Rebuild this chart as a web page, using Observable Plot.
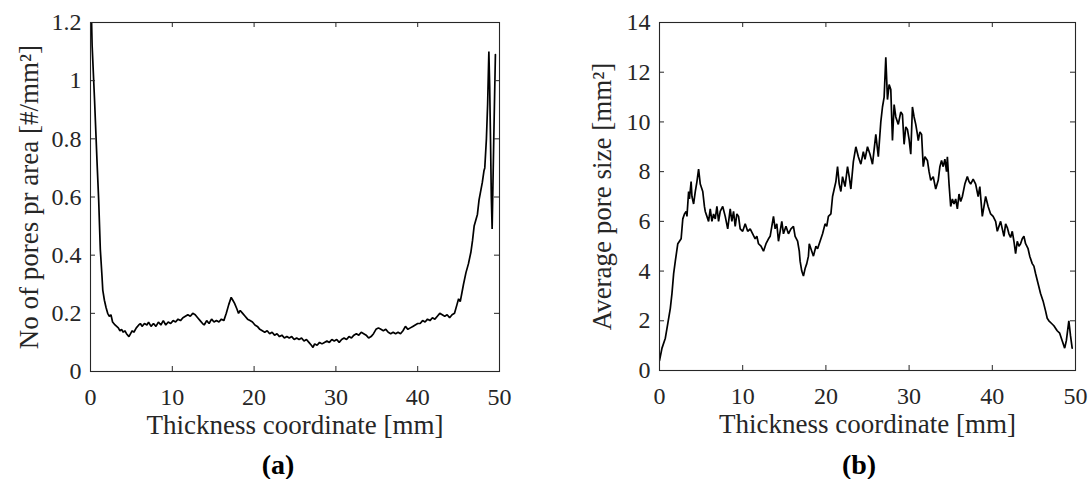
<!DOCTYPE html>
<html>
<head>
<meta charset="utf-8">
<script src="https://cdn.jsdelivr.net/npm/d3@7"></script>
<script src="https://cdn.jsdelivr.net/npm/@observablehq/plot@0.6"></script>
<style>
  html, body { margin: 0; padding: 0; background: #fff; }
  #wrap { position: relative; width: 1091px; height: 479px; overflow: hidden; background: #fff; }
  .panel { position: absolute; top: 0; }
  .cap { position: absolute; width: 100px; text-align: center; font-family: "Liberation Serif", serif; font-weight: bold; font-size: 28px; line-height: 28px; color: #000; }
</style>
</head>
<body>
<div id="wrap">
  <div id="pa" class="panel" style="left:0px"></div>
  <div id="pb" class="panel" style="left:545px"></div>
  <div class="cap" style="left:228px; top:451px">(a)</div>
  <div class="cap" style="left:809px; top:451px">(b)</div>
</div>
<script>
// ---- Data ----
const xTicks = [0, 10, 20, 30, 40, 50];
const yTicksA = [0, 0.2, 0.4, 0.6, 0.8, 1, 1.2];
const yTicksB = [0, 2, 4, 6, 8, 10, 12, 14];
const xLabel = "Thickness coordinate [mm]";
const yLabelA = "No of pores pr area [#/mm²]";
const yLabelB = "Average pore size [mm²]";

// (a) number of pores per area vs thickness coordinate
const thicknessA = [0.05,0.2,0.5,0.8,1.0,1.2,1.4,1.5,1.7,1.9,2.1,2.3,2.5,2.7,3.0,3.2,3.4,3.6,3.8,4.0,4.2,4.4,4.7,4.9,5.1,5.3,5.6,5.9,6.1,6.3,6.6,6.9,7.1,7.4,7.7,8.0,8.3,8.6,8.9,9.2,9.5,9.8,10.1,10.4,10.7,11.0,11.3,11.6,11.9,12.2,12.5,12.8,13.1,13.4,13.7,13.9,14.2,14.5,14.8,15.1,15.4,15.7,16.0,16.3,16.6,16.9,17.2,17.4,17.6,17.9,18.1,18.3,18.6,18.9,19.2,19.5,19.8,20.1,20.4,20.7,21.0,21.3,21.6,21.9,22.2,22.5,22.8,23.1,23.4,23.7,24.0,24.3,24.6,24.9,25.2,25.5,25.8,26.1,26.4,26.7,27.0,27.2,27.4,27.7,28.0,28.3,28.6,28.9,29.2,29.5,29.8,30.1,30.4,30.7,31.0,31.3,31.6,31.9,32.2,32.5,32.8,33.1,33.4,33.7,34.0,34.3,34.6,34.9,35.2,35.5,35.8,36.1,36.4,36.7,37.0,37.3,37.6,37.9,38.2,38.5,38.8,39.1,39.4,39.7,40.0,40.3,40.6,40.9,41.2,41.5,41.8,42.1,42.4,42.7,43.0,43.3,43.6,43.9,44.2,44.5,44.8,45.0,45.2,45.4,45.6,45.9,46.2,46.5,46.7,46.9,47.1,47.3,47.5,47.7,47.9,48.1,48.2,48.4,48.55,48.7,48.8,48.9,49.0,49.1,49.3,49.5];
const poresPerArea = [1.30,1.12,0.93,0.72,0.59,0.42,0.33,0.28,0.245,0.22,0.20,0.19,0.195,0.17,0.16,0.155,0.15,0.14,0.145,0.135,0.14,0.13,0.12,0.13,0.14,0.135,0.15,0.16,0.165,0.155,0.165,0.16,0.17,0.155,0.165,0.155,0.17,0.16,0.175,0.16,0.17,0.165,0.175,0.17,0.18,0.175,0.185,0.19,0.195,0.19,0.20,0.195,0.185,0.175,0.165,0.16,0.175,0.165,0.18,0.17,0.175,0.17,0.18,0.175,0.20,0.23,0.255,0.245,0.235,0.215,0.20,0.21,0.20,0.19,0.18,0.175,0.17,0.16,0.155,0.145,0.14,0.135,0.14,0.13,0.135,0.125,0.13,0.12,0.125,0.115,0.12,0.115,0.12,0.11,0.115,0.11,0.115,0.105,0.11,0.10,0.09,0.083,0.095,0.09,0.10,0.095,0.10,0.105,0.10,0.11,0.105,0.11,0.10,0.11,0.115,0.11,0.12,0.115,0.125,0.13,0.125,0.135,0.13,0.125,0.115,0.12,0.13,0.145,0.15,0.145,0.14,0.145,0.135,0.13,0.135,0.13,0.135,0.13,0.14,0.155,0.145,0.15,0.155,0.16,0.165,0.165,0.175,0.17,0.18,0.175,0.185,0.18,0.19,0.20,0.195,0.19,0.195,0.185,0.195,0.20,0.23,0.25,0.24,0.27,0.30,0.34,0.37,0.41,0.45,0.50,0.52,0.54,0.59,0.62,0.65,0.69,0.70,0.80,0.92,1.10,0.98,0.80,0.60,0.49,0.80,1.09];

// (b) average pore size vs thickness coordinate
const thicknessB = [0,0.3,0.7,1.0,1.3,1.5,1.7,1.9,2.2,2.4,2.6,2.8,3.0,3.2,3.3,3.5,3.6,3.8,3.9,4.1,4.3,4.5,4.7,4.9,5.0,5.2,5.4,5.5,5.7,5.9,6.1,6.3,6.5,6.7,6.9,7.1,7.3,7.6,7.9,8.2,8.5,8.7,8.9,9.1,9.3,9.5,9.7,10.0,10.3,10.6,10.9,11.2,11.5,11.7,11.9,12.2,12.5,12.8,13.1,13.3,13.5,13.7,13.9,14.1,14.3,14.5,14.7,14.9,15.2,15.5,15.8,16.1,16.3,16.6,16.8,16.9,17.1,17.3,17.5,17.7,17.9,18.0,18.3,18.5,18.8,19.0,19.3,19.6,19.9,20.1,20.3,20.6,20.8,21.0,21.2,21.4,21.6,21.8,22.0,22.3,22.6,22.8,23.0,23.3,23.6,23.9,24.2,24.5,24.7,25.0,25.3,25.6,26.0,26.3,26.6,26.8,27.0,27.2,27.4,27.6,27.8,28.0,28.2,28.4,28.7,29.0,29.2,29.4,29.6,29.8,30.0,30.2,30.4,30.6,30.8,31.0,31.1,31.3,31.5,31.7,31.9,32.2,32.4,32.6,32.9,33.2,33.5,33.7,33.9,34.1,34.3,34.5,34.6,34.8,35.0,35.2,35.4,35.6,35.8,36.0,36.2,36.4,36.7,37.0,37.2,37.4,37.7,38.0,38.3,38.5,38.8,39.0,39.2,39.5,39.8,40.1,40.4,40.6,41.0,41.2,41.4,41.6,41.8,42.0,42.2,42.4,42.6,42.8,43.0,43.2,43.4,43.6,43.8,44.0,44.3,44.5,44.8,45.0,45.2,45.5,45.8,46.1,46.4,46.6,46.8,47.1,47.4,47.8,48.1,48.4,48.7,48.9,49.2,49.4,49.6];
const poreSize = [0.4,0.9,1.3,1.9,2.5,3.1,3.9,4.4,5.1,5.2,5.3,6.1,6.3,6.4,6.2,7.2,6.9,7.6,7.0,6.7,7.2,7.6,8.1,7.5,7.4,7.2,6.6,6.4,6.2,6.0,6.5,6.0,6.3,6.1,6.6,6.0,6.4,6.6,6.2,5.7,6.5,6.0,6.4,5.8,6.3,6.2,5.7,5.6,5.9,5.6,5.7,5.5,5.3,5.4,5.1,5.0,4.8,5.1,5.3,5.4,5.8,6.2,5.7,5.9,5.2,5.6,6.0,5.5,5.8,5.5,5.7,5.8,5.4,5.2,4.8,4.4,4.0,3.8,4.1,4.3,4.6,5.1,4.8,4.6,5.0,4.9,5.2,5.5,5.9,5.8,6.2,6.3,7.0,7.3,7.6,8.2,7.5,7.2,7.8,7.4,8.2,7.8,7.3,8.4,9.0,8.6,8.3,8.8,8.5,9.0,8.7,8.3,9.5,8.6,10.0,10.6,11.0,12.6,10.9,11.5,11.3,9.25,10.7,10.2,9.9,10.4,10.3,9.1,9.8,9.7,9.3,8.7,10.6,10.2,9.9,9.5,9.25,9.6,9.5,8.2,8.6,8.45,8.0,7.65,7.8,7.3,7.65,8.2,8.45,8.2,8.5,8.0,8.6,7.5,6.6,6.9,6.7,6.9,6.5,7.1,6.8,7.0,7.5,7.8,7.6,7.5,7.7,7.5,7.0,7.4,6.2,6.6,7.0,6.6,6.3,6.2,6.0,5.6,6.0,5.7,5.4,5.9,5.75,5.5,5.35,5.6,5.2,4.7,5.2,5.0,5.1,5.3,5.4,5.1,4.9,4.6,4.3,4.2,3.9,3.5,3.1,2.8,2.4,2.1,2.0,1.9,1.8,1.6,1.5,1.2,0.9,1.2,2.0,1.4,0.9];

// ---- Drawing ----
const FONT = "Liberation Serif, Times New Roman, serif";
const INK = "#262626";

function panel({xs, ys, yDomain, yTicks, yLabel, width, marginLeft, marginRight, height, marginTop, marginBottom, labelDx}) {
  const data = xs.map((x, i) => ({x, y: ys[i]}));
  const frameH = height - marginTop - marginBottom;
  const frameW = width - marginLeft - marginRight;
  const tickLen = 5;
  return Plot.plot({
    width, height, marginLeft, marginRight, marginTop, marginBottom,
    style: {fontFamily: FONT, fontSize: "24px", color: INK, background: "transparent", overflow: "visible"},
    x: {domain: [0, 50], ticks: xTicks},
    y: {domain: yDomain, ticks: yTicks},
    marks: [
      Plot.line(data, {x: "x", y: "y", stroke: "#000", strokeWidth: 1.7, strokeLinejoin: "miter", clip: true}),
      // inward tick marks on all four sides (MATLAB box style)
      Plot.tickX(xTicks, {x: d => d, insetTop: frameH - tickLen, stroke: INK, strokeWidth: 1}),
      Plot.tickX(xTicks, {x: d => d, insetBottom: frameH - tickLen, stroke: INK, strokeWidth: 1}),
      Plot.tickY(yTicks, {y: d => d, insetRight: frameW - tickLen, stroke: INK, strokeWidth: 1}),
      Plot.tickY(yTicks, {y: d => d, insetLeft: frameW - tickLen, stroke: INK, strokeWidth: 1}),
      Plot.frame({stroke: INK, strokeWidth: 1.1}),
      Plot.axisX(xTicks, {anchor: "bottom", tickSize: 0, tickPadding: 16, label: null, tickFormat: d => String(d), fill: INK, fontSize: 24}),
      Plot.axisY(yTicks, {anchor: "left", tickSize: 0, tickPadding: 9, label: null, tickFormat: d => String(d), fill: INK, fontSize: 24}),
      Plot.text([xLabel], {frameAnchor: "bottom", dy: 54, lineAnchor: "middle", textAnchor: "middle", fill: INK, fontSize: 27}),
      Plot.text([yLabel], {frameAnchor: "left", dx: labelDx, rotate: -90, lineAnchor: "middle", textAnchor: "middle", fill: INK, fontSize: 27})
    ]
  });
}

document.getElementById("pa").append(panel({
  xs: thicknessA, ys: poresPerArea, yDomain: [0, 1.2], yTicks: yTicksA, yLabel: yLabelA,
  width: 545, marginLeft: 90, marginRight: 46, height: 440, marginTop: 22, marginBottom: 69, labelDx: -61
}));
document.getElementById("pb").append(panel({
  xs: thicknessB, ys: poreSize, yDomain: [0, 14], yTicks: yTicksB, yLabel: yLabelB,
  width: 546, marginLeft: 114, marginRight: 16, height: 440, marginTop: 22, marginBottom: 70, labelDx: -57
}));
</script>
</body>
</html>
